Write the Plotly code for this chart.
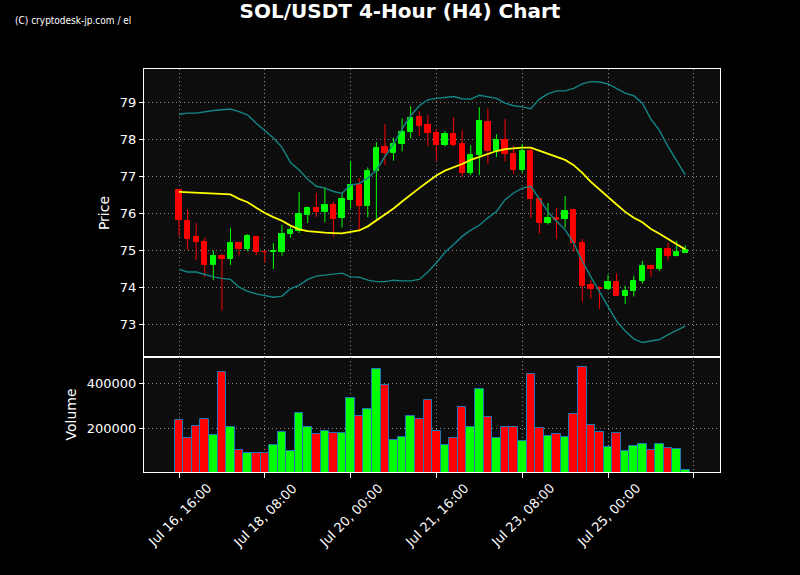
import pandas as pd
import plotly.graph_objects as go
from plotly.subplots import make_subplots

# ---------------- data ----------------
start = "2025-07-16 16:00"
n_candles = 60
opens = [76.64, 75.80, 75.35, 75.24, 74.60, 74.86, 74.76, 75.20, 75.03, 75.37,
         74.97, 74.95, 74.96, 75.44, 75.52, 75.95, 76.15, 76.05, 76.23, 75.88,
         76.37, 76.76, 76.21, 77.13, 77.79, 77.64, 77.86, 78.20, 78.59, 78.38,
         78.16, 77.85, 78.14, 77.88, 77.10, 77.56, 78.47, 77.67, 77.99, 77.60,
         77.16, 77.69, 76.40, 75.73, 75.88, 75.84, 76.10, 75.20, 74.06, 73.99,
         73.96, 74.14, 73.77, 73.90, 74.17, 74.59, 74.50, 75.04, 74.86, 74.94]
closes = [75.81, 75.30, 75.22, 74.60, 74.86, 74.76, 75.20, 75.03, 75.40, 74.95,
          74.95, 74.98, 75.45, 75.54, 75.97, 76.15, 76.05, 76.23, 75.86, 76.39,
          76.76, 76.21, 77.15, 77.77, 77.64, 77.87, 78.20, 78.57, 78.36, 78.16,
          77.85, 78.14, 77.85, 77.10, 77.58, 78.48, 77.67, 77.98, 77.60, 77.16,
          77.69, 76.39, 75.73, 75.88, 75.81, 76.07, 75.19, 74.04, 73.96, 73.97,
          74.14, 73.77, 73.92, 74.19, 74.59, 74.51, 75.04, 74.86, 74.95, 75.02]
highs = [76.66, 76.10, 75.74, 75.34, 75.00, 74.90, 75.61, 75.22, 75.44, 75.40,
         75.00, 75.20, 75.69, 75.65, 76.58, 76.18, 76.55, 76.71, 76.31, 76.56,
         77.40, 76.95, 77.24, 77.92, 78.40, 78.04, 78.56, 78.89, 78.75, 78.65,
         78.27, 78.22, 78.59, 78.23, 77.84, 78.86, 78.82, 78.13, 78.54, 77.82,
         77.87, 77.75, 76.40, 76.28, 76.15, 76.47, 76.13, 75.31, 74.21, 74.04,
         74.34, 74.38, 74.05, 74.32, 74.72, 74.62, 75.05, 75.21, 75.26, 75.14]
lows = [75.38, 75.02, 74.74, 74.29, 74.20, 73.39, 74.61, 74.86, 74.98, 74.88,
        74.67, 74.50, 74.86, 75.34, 75.47, 75.74, 75.90, 75.76, 75.37, 75.62,
        76.13, 75.51, 75.90, 75.81, 77.30, 77.42, 77.67, 78.02, 78.09, 77.82,
        77.42, 77.80, 77.80, 76.99, 77.03, 77.03, 77.33, 77.52, 77.40, 77.07,
        77.10, 75.88, 75.45, 75.70, 75.31, 75.61, 74.97, 73.62, 73.70, 73.43,
        73.93, 73.77, 73.56, 73.76, 74.10, 74.29, 74.45, 74.73, 74.84, 74.93]
volumes = [235600, 155600, 210200, 240000, 168900, 448900, 204400, 102200, 88900, 88900,
           88900, 124400, 182200, 97800, 266700, 204400, 174700, 186700, 177800, 177800,
           333300, 254700, 284400, 462200, 391100, 146700, 160000, 253300, 240000, 324400,
           186700, 124400, 155600, 293300, 204400, 373300, 248900, 155600, 204400, 204400,
           142200, 440000, 200000, 164400, 173300, 160000, 262200, 471100, 213300, 182200,
           115600, 177800, 97800, 120000, 128900, 102200, 128900, 111100, 106700, 11600]
sma = [76.58, 76.57, 76.56, 76.55, 76.54, 76.53, 76.51, 76.39, 76.30, 76.15,
       76.01, 75.90, 75.80, 75.67, 75.57, 75.52, 75.49, 75.48, 75.47, 75.46,
       75.50, 75.54, 75.65, 75.81, 75.96, 76.13, 76.32, 76.51, 76.68, 76.85,
       77.02, 77.15, 77.23, 77.33, 77.44, 77.52, 77.60, 77.68, 77.73, 77.76,
       77.77, 77.77, 77.69, 77.60, 77.52, 77.44, 77.30, 77.09, 76.85, 76.64,
       76.44, 76.24, 76.04, 75.88, 75.76, 75.58, 75.45, 75.32, 75.17, 75.03]
bb_upper = [78.67, 78.70, 78.70, 78.74, 78.77, 78.79, 78.81, 78.74, 78.65, 78.43,
            78.22, 78.03, 77.78, 77.37, 77.17, 76.92, 76.73, 76.68, 76.59, 76.54,
            76.77, 76.80, 76.95, 77.17, 77.53, 77.87, 78.28, 78.63, 78.90, 79.06,
            79.10, 79.13, 79.15, 79.09, 79.08, 79.18, 79.15, 79.10, 78.97, 78.90,
            78.87, 78.82, 79.08, 79.22, 79.30, 79.30, 79.37, 79.49, 79.55, 79.54,
            79.49, 79.37, 79.24, 79.17, 78.97, 78.54, 78.23, 77.80, 77.42, 77.04]
bb_lower = [74.49, 74.42, 74.42, 74.35, 74.29, 74.25, 74.22, 74.01, 73.90, 73.83,
            73.79, 73.74, 73.77, 73.97, 74.06, 74.22, 74.31, 74.33, 74.36, 74.39,
            74.29, 74.28, 74.20, 74.16, 74.16, 74.20, 74.18, 74.18, 74.22, 74.42,
            74.67, 74.95, 75.16, 75.38, 75.55, 75.68, 75.88, 76.05, 76.37, 76.55,
            76.68, 76.73, 76.39, 76.04, 75.79, 75.56, 75.20, 74.71, 74.29, 73.90,
            73.50, 73.10, 72.83, 72.62, 72.52, 72.56, 72.60, 72.73, 72.85, 72.96]
tick_labels = ["Jul 16, 16:00", "Jul 18, 08:00", "Jul 20, 00:00", "Jul 21, 16:00",
               "Jul 23, 08:00", "Jul 25, 00:00", ""]

# ---------------- derived ----------------
step = pd.Timedelta(hours=4)
step_ms = step.total_seconds() * 1000
times = pd.date_range(start, periods=n_candles, freq="4h")
t0 = times[0]
tick_vals = [t0 + step * (10 * k) for k in range(len(tick_labels))]
x_range = [t0 - step * 4.08, t0 + step * 63.05]

UP = "#00ff00"
DN = "#ff0000"
is_up = [c >= o for o, c in zip(opens, closes)]
colors = [UP if u else DN for u in is_up]
body_base = [min(o, c) for o, c in zip(opens, closes)]
body_h = [abs(c - o) for o, c in zip(opens, closes)]

fig = make_subplots(rows=2, cols=1, shared_xaxes=True, vertical_spacing=0,
                    row_heights=[288 / 403, 115 / 403])

# candle bodies
fig.add_trace(go.Bar(x=times, y=body_h, base=body_base, width=step_ms * 0.62,
                     marker=dict(color=colors, line=dict(color=colors, width=1)),
                     showlegend=False, hoverinfo="skip"), row=1, col=1)

# volume bars
fig.add_trace(go.Bar(x=times, y=volumes, width=step_ms,
                     marker=dict(color=colors, line=dict(color="#1f77b4", width=1)),
                     showlegend=False), row=2, col=1)

# wicks
for flag, col in ((True, UP), (False, DN)):
    wx, wy = [], []
    for t, h, l, u in zip(times, highs, lows, is_up):
        if u == flag:
            wx += [t, t, None]
            wy += [l, h, None]
    fig.add_trace(go.Scatter(x=wx, y=wy, mode="lines", line=dict(color=col, width=1),
                             showlegend=False, hoverinfo="skip"), row=1, col=1)

# indicators
fig.add_trace(go.Scatter(x=times, y=sma, mode="lines", line=dict(color="#ffff00", width=1.8),
                         showlegend=False), row=1, col=1)
for band in (bb_upper, bb_lower):
    fig.add_trace(go.Scatter(x=times, y=band, mode="lines", line=dict(color="#148585", width=1.4),
                             showlegend=False), row=1, col=1)

font_family = "DejaVu Sans, sans-serif"
axis_common = dict(showline=True, mirror=True, linecolor="white", linewidth=1,
                   gridcolor="#8a8a8a", griddash="1px,3px", gridwidth=1, zeroline=False,
                   tickfont=dict(color="white", size=13, family=font_family),
                   ticks="outside", tickcolor="white", ticklen=4)

fig.update_xaxes(range=x_range, tickvals=tick_vals, ticktext=tick_labels, showgrid=True,
                 showticklabels=False, **axis_common)
fig.update_xaxes(ticks="", row=1, col=1)
fig.update_xaxes(ticklen=5, row=2, col=1)

fig.update_yaxes(range=[72.13, 79.89], tickvals=[73, 74, 75, 76, 77, 78, 79],
                 title=dict(text="Price", font=dict(color="white", size=14, family=font_family),
                            standoff=6),
                 **axis_common, row=1, col=1)
fig.update_yaxes(range=[3500, 518000], tickvals=[200000, 400000], tickformat="d",
                 title=dict(text="Volume", font=dict(color="white", size=14, family=font_family),
                            standoff=6),
                 **axis_common, row=2, col=1)

# rotated, centre-aligned x tick labels (matplotlib style)
annotations = [dict(text=lab, x=tv, xref="x2", yref="paper", y=-(515 - 472) / 403,
                    xanchor="center", yanchor="middle", textangle=-45, showarrow=False,
                    font=dict(size=13, color="white", family=font_family))
               for tv, lab in zip(tick_vals, tick_labels) if lab]
annotations.append(dict(text="(C) cryptodesk-jp.com / el", xref="paper", yref="paper",
                        x=(13 - 144) / 576, y=1 + (69 - 21) / 403, xanchor="left",
                        yanchor="middle", showarrow=False,
                        font=dict(size=10, color="white",
                                  family="Liberation Sans Narrow, DejaVu Sans Condensed, sans-serif")))

fig.update_layout(
    width=800, height=575,
    margin=dict(l=144, r=80, t=69, b=103),
    paper_bgcolor="black", plot_bgcolor="#0d0d0d",
    barmode="overlay", bargap=0,
    font=dict(family=font_family, color="white"),
    title=dict(text="<b>SOL/USDT 4-Hour (H4) Chart</b>", x=0.5, xanchor="center",
               y=1 - 11 / 575, yanchor="middle",
               font=dict(size=20, color="white", family=font_family)),
    annotations=annotations,
)

fig.write_html("out.html", config={"displayModeBar": False},
               post_script="document.body.style.margin='0';document.body.style.padding='0';"
                           "document.body.style.background='black';")
